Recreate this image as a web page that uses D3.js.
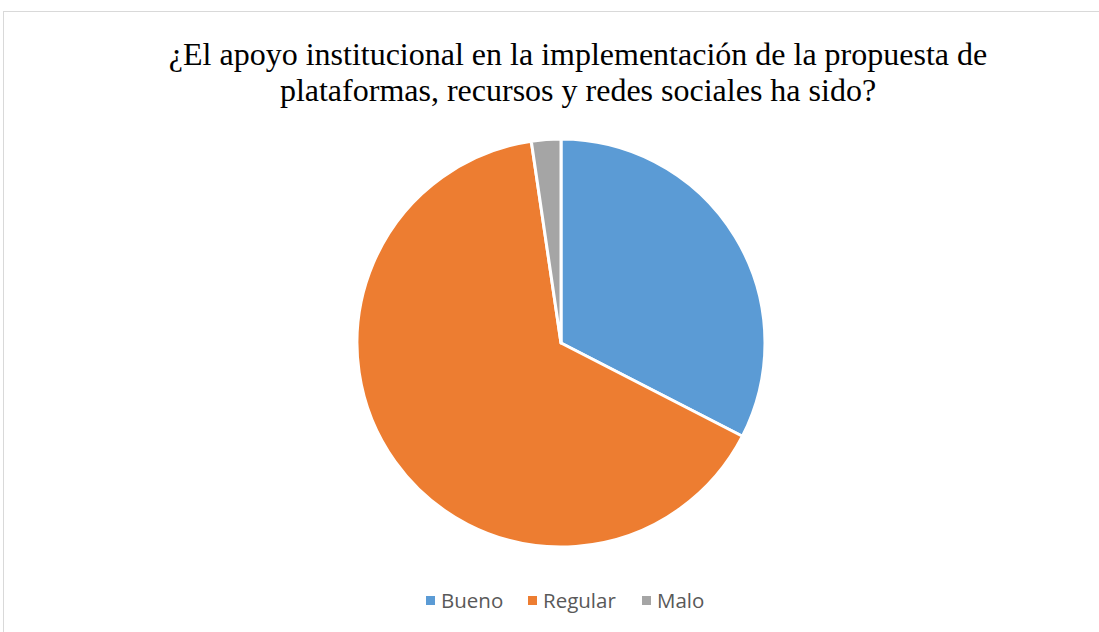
<!DOCTYPE html>
<html>
<head>
<meta charset="utf-8">
<script src="https://cdn.jsdelivr.net/npm/d3@7"></script>
<style>
  body { margin: 0; background: #fff; }
  .title { font-family: "Liberation Serif", "DejaVu Serif", serif; }
</style>
</head>
<body>
<div id="chart"></div>
<script>
// data
var categories = ["Bueno", "Regular", "Malo"];
var values = [14, 28, 1];
var colors = ["#5B9BD5", "#ED7D31", "#A5A5A5"];
var titleLines = ["¿El apoyo institucional en la implementación de la propuesta de",
                  "plataformas, recursos y redes sociales ha sido?"];

var width = 1099, height = 632;

var svg = d3.select("#chart")
  .append("svg")
  .attr("width", width)
  .attr("height", height);

// chart area border
svg.append("rect")
  .attr("x", 3.5)
  .attr("y", 11.5)
  .attr("width", 1110)
  .attr("height", 640)
  .attr("fill", "#fff")
  .attr("stroke", "#d9d9d9")
  .attr("stroke-width", 1);

// title
svg.append("g")
  .selectAll("text")
  .data(titleLines)
  .enter().append("text")
  .attr("class", "title")
  .attr("x", 578)
  .attr("y", function(d, i) { return 65 + i * 36; })
  .attr("text-anchor", "middle")
  .style("font-size", "32px")
  .style("fill", "#000")
  .text(function(d) { return d; });

// pie
var cx = 561, cy = 343, r = 204;
var pie = d3.pie().sort(null).value(function(d) { return d; });
var arc = d3.arc().innerRadius(0).outerRadius(r);

var g = svg.append("g")
  .attr("transform", "translate(" + cx + "," + cy + ")");

g.selectAll("path")
  .data(pie(values))
  .enter().append("path")
  .attr("d", arc)
  .attr("fill", function(d, i) { return colors[i]; })
  .attr("stroke", "#fff")
  .attr("stroke-width", 3)
  .attr("stroke-linejoin", "round");

// legend
var legendX = [426, 528, 642];
var legend = svg.append("g");
var items = legend.selectAll("g")
  .data(categories)
  .enter().append("g")
  .attr("transform", function(d, i) { return "translate(" + legendX[i] + ",596)"; });

items.append("rect")
  .attr("width", 9)
  .attr("height", 9)
  .attr("fill", function(d, i) { return colors[i]; });

items.append("text")
  .attr("x", 15)
  .attr("y", 12)
  .style("font-family", "'Open Sans', 'Liberation Sans', sans-serif")
  .style("font-size", "20.5px")
  .style("fill", "#595959")
  .text(function(d) { return d; });
</script>
</body>
</html>
